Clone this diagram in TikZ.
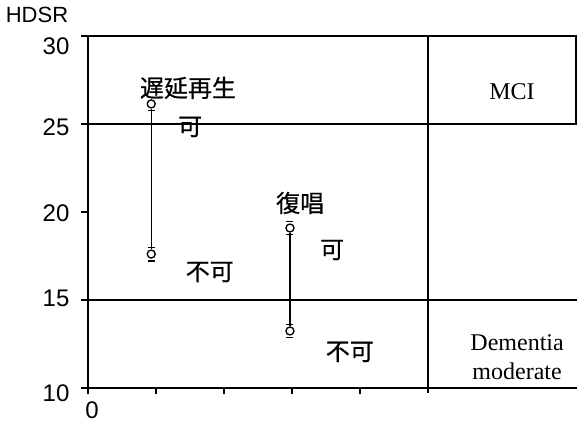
\documentclass[tikz,border=0pt]{standalone}
\usepackage{fontspec}
\setmainfont{Liberation Serif}
\setsansfont{Liberation Sans}
\newfontfamily\jpfont[FakeBold=0.6]{Noto Sans CJK JP}
\usepackage{tikz}
\usetikzlibrary{arrows.meta,positioning,calc}

\begin{document}
\begin{tikzpicture}[x=51pt,y=13.2pt,>=Latex,
    num/.style={font=\sffamily\fontsize{18}{20}\selectfont,inner sep=0pt},
    jp/.style={font=\jpfont\fontsize{18}{20}\selectfont,inner sep=0pt},
    lbl/.style={font=\fontsize{18}{22}\selectfont,inner sep=0pt,align=center},
    marker/.style={circle,draw,line width=1pt,minimum size=6pt,inner sep=0pt,fill=white,
      path picture={\fill (path picture bounding box.center) circle (0.8pt);}}]
  \useasboundingbox (-1.294,8.068) rectangle (7.191,32.045);
  % Axes and frame
  \draw[line width=1.5pt] (0,10) -- (0,30) -- (7.17,30) -- (7.17,25);
  \draw[line width=1.3pt] (-0.1,10) -- (7.191,10);
  \draw[line width=1.1pt] (-0.1,25) -- (7.191,25);
  \draw[line width=1.1pt] (-0.1,15) -- (7.191,15);
  \draw[line width=1.1pt] (5,30) -- (5,9.7);
  \foreach \yv in {20,30} \draw[line width=1pt] (-0.1,\yv) -- (0,\yv);
  \foreach \xv in {0,...,4} \draw[line width=1pt] (\xv,10) -- (\xv,9.65);
  % Tick labels
  \node[num,font=\sffamily\fontsize{16.5}{18}\selectfont] (hdsr) at (-0.75,31.2) {HDSR};
  \node[num,anchor=east] (y30) at (-0.27,29.4) {30};
  \node[num,anchor=east] (y25) at (-0.27,24.8) {25};
  \node[num,anchor=east] (y20) at (-0.27,19.95) {20};
  \node[num,anchor=east] (y15) at (-0.27,15.1) {15};
  \node[num,anchor=east] (y10) at (-0.27,9.7) {10};
  \node[num] (x0) at (0.06,8.75) {0};
  % Ranges
  \node[marker] (dr top) at (0.93,26.14) {};
  \node[marker] (dr bot) at (0.93,17.61) {};
  \node[marker] (rp top) at (2.97,19.09) {};
  \node[marker] (rp bot) at (2.97,13.24) {};
  \draw[line width=1.1pt] (dr top) -- (dr bot);
  \draw[line width=1.1pt] (rp top) -- (rp bot);
  \foreach \m in {dr bot,rp top,rp bot}
    \draw[line width=1pt] ([xshift=-2.6pt,yshift=1.6pt]\m.north) -- ([xshift=2.6pt,yshift=1.6pt]\m.north);
  \foreach \m in {dr top,dr bot,rp top,rp bot}
    \draw[line width=1pt] ([xshift=-2.6pt,yshift=-1.6pt]\m.south) -- ([xshift=2.6pt,yshift=-1.6pt]\m.south);
  % Labels
  \node[jp] (dr lbl) at (1.47,27.05) {遅延再生};
  \node[jp] (dr ok) at (1.5,24.83) {可};
  \node[jp] (dr ng) at (1.79,16.59) {不可};
  \node[jp] (rp lbl) at (3.12,20.51) {復唱};
  \node[jp] (rp ok) at (3.59,17.84) {可};
  \node[jp] (rp ng) at (3.85,12.05) {不可};
  \node[lbl] (mci) at (6.235,26.82) {MCI};
  \node[lbl] (dem) at (6.31,11.76) {Dementia\\moderate};
\end{tikzpicture}
\end{document}
